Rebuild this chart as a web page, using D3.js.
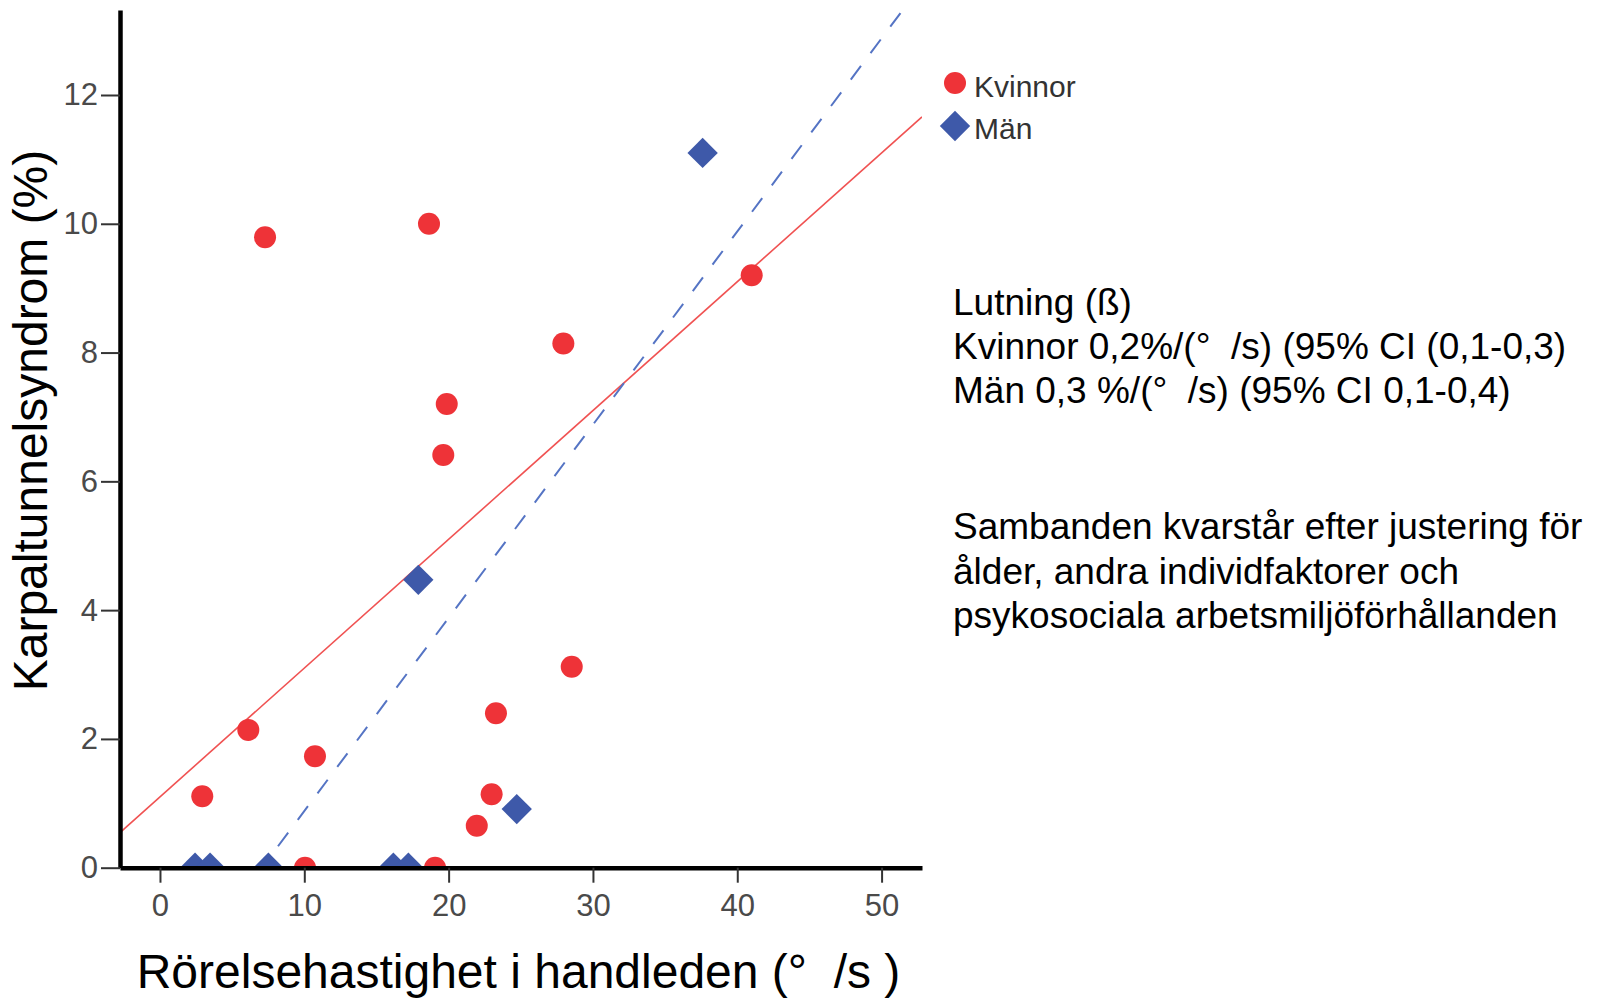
<!DOCTYPE html>
<html>
<head>
<meta charset="utf-8">
<script src="https://cdn.jsdelivr.net/npm/d3@7"></script>
<style>
  html, body { margin: 0; padding: 0; background: #fff; }
  svg { display: block; font-family: "Liberation Sans", Arial, sans-serif; }
</style>
</head>
<body>
<svg id="chart" width="1602" height="999"></svg>
<script>
// Rörelsehastighet i handleden (°/s) per grupp
const womenSpeed = [7.28, 18.64, 19.87, 19.63, 6.12, 10.74, 2.93, 10.05, 19.06, 21.95, 22.98, 23.28, 28.53, 27.95, 41.0];
// Karpaltunnelsyndrom (%) per grupp
const womenCts   = [9.79, 10.0, 7.20, 6.41, 2.14, 1.73, 1.11, 0, 0, 0.65, 1.14, 2.40, 3.12, 8.14, 9.20];
const menSpeed   = [17.9, 37.6, 24.72, 2.43, 3.47, 7.51, 16.17, 17.21];
const menCts     = [4.47, 11.10, 0.91, 0, 0, 0, 0, 0];

// Regressionslinjer: intercept och lutning
const womenFit = { intercept: 1.10, slope: 0.2 };
const menFit   = { intercept: -2.12, slope: 0.3 };

const xTicks = [0, 10, 20, 30, 40, 50];
const yTicks = [0, 2, 4, 6, 8, 10, 12];

const seriesNames = ["Kvinnor", "Män"];
const infoLines = [
  "Lutning (ß)",
  "Kvinnor 0,2%/(°\u00a0\u00a0/s) (95% CI (0,1-0,3)",
  "Män 0,3 %/(°\u00a0\u00a0/s) (95% CI 0,1-0,4)"
];
const noteLines = [
  "Sambanden kvarstår efter justering för",
  "ålder, andra individfaktorer och",
  "psykosociala arbetsmiljöförhållanden"
];

const RED = "#ee3338";
const BLUE = "#3e59a9";

const svg = d3.select("#chart");

const x = d3.scaleLinear().domain([-2.77, 52.8]).range([120, 922]);
const y = d3.scaleLinear().domain([0, 13.32]).range([867.7, 10]);

// clip region for the plotting area
svg.append("defs").append("clipPath").attr("id", "plotClip")
  .append("rect")
  .attr("x", x.range()[0]).attr("y", y.range()[1])
  .attr("width", x.range()[1] - x.range()[0])
  .attr("height", y.range()[0] - y.range()[1]);

const plot = svg.append("g").attr("clip-path", "url(#plotClip)");

// fit lines across the full x range
const [x0, x1] = x.domain();
plot.append("line")
  .attr("x1", x(x0)).attr("y1", y(womenFit.intercept + womenFit.slope * x0))
  .attr("x2", x(x1)).attr("y2", y(womenFit.intercept + womenFit.slope * x1))
  .attr("stroke", "#f05252").attr("stroke-width", 1.6);

plot.append("line")
  .attr("x1", x(x0)).attr("y1", y(menFit.intercept + menFit.slope * x0))
  .attr("x2", x(x1)).attr("y2", y(menFit.intercept + menFit.slope * x1))
  .attr("stroke", "#5574c4").attr("stroke-width", 2)
  .attr("stroke-dasharray", "17,16");

// women: circles
plot.selectAll("circle.w")
  .data(womenSpeed.map((v, i) => [v, womenCts[i]]))
  .join("circle").attr("class", "w")
  .attr("cx", d => x(d[0])).attr("cy", d => y(d[1]))
  .attr("r", 11).attr("fill", RED);

// men: diamonds
const diamond = d3.symbol().type(d3.symbolSquare).size(460);
plot.selectAll("path.m")
  .data(menSpeed.map((v, i) => [v, menCts[i]]))
  .join("path").attr("class", "m")
  .attr("d", diamond)
  .attr("transform", d => `translate(${x(d[0])},${y(d[1])}) rotate(45)`)
  .attr("fill", BLUE);

// axes
const yAxis = svg.append("g").attr("transform", `translate(${x.range()[0]},0)`)
  .call(d3.axisLeft(y).tickValues(yTicks).tickSize(19).tickSizeOuter(0).tickPadding(3));
const xAxis = svg.append("g").attr("transform", `translate(0,${y.range()[0]})`)
  .call(d3.axisBottom(x).tickValues(xTicks).tickSize(15).tickSizeOuter(0).tickPadding(11));

[xAxis, yAxis].forEach(g => {
  g.select(".domain").attr("stroke", "#000").attr("stroke-width", 4.5);
  g.selectAll(".tick line").attr("stroke", "#333").attr("stroke-width", 2);
  g.selectAll(".tick text").attr("fill", "#4a4a4a")
    .style("font-size", "31px").style("font-family", "'Liberation Sans', Arial, sans-serif");
});

// axis titles
svg.append("text")
  .attr("transform", "translate(47,420.5) rotate(-90)")
  .attr("text-anchor", "middle")
  .style("font-size", "48px").attr("fill", "#000")
  .text("Karpaltunnelsyndrom (%)");

svg.append("text")
  .attr("x", 518.5).attr("y", 988)
  .attr("text-anchor", "middle")
  .style("font-size", "48px").attr("fill", "#000")
  .style("white-space", "pre")
  .text("Rörelsehastighet i handleden (°\u00a0\u00a0/s )");

// legend
const legend = svg.append("g");
legend.append("circle").attr("cx", 955).attr("cy", 83).attr("r", 11).attr("fill", RED);
legend.append("path").attr("d", diamond)
  .attr("transform", "translate(955,126) rotate(45)").attr("fill", BLUE);
legend.selectAll("text").data(seriesNames).join("text")
  .attr("x", 974).attr("y", (d, i) => 97 + i * 42)
  .style("font-size", "30px").attr("fill", "#333")
  .text(d => d);

// slope annotation and adjustment note
svg.append("g").selectAll("text").data(infoLines).join("text")
  .attr("x", 953).attr("y", (d, i) => 315 + i * 44)
  .style("font-size", "37px").attr("fill", "#000")
  .text(d => d);

svg.append("g").selectAll("text").data(noteLines).join("text")
  .attr("x", 953).attr("y", (d, i) => 539 + i * 44.5)
  .style("font-size", "37px").attr("fill", "#000")
  .text(d => d);
</script>
</body>
</html>
